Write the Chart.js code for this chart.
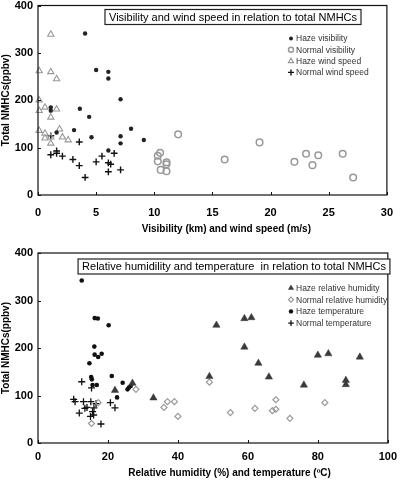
<!DOCTYPE html>
<html>
<head>
<meta charset="utf-8">
<script src="https://cdn.jsdelivr.net/npm/chart.js@4.4.1/dist/chart.umd.min.js"></script>
<style>
  body { margin: 0; background: #fff; }
  canvas { display: block; }
</style>
</head>
<body>
<canvas id="graficoVisibilidade" width="404" height="240"></canvas>
<canvas id="graficoUmidade" width="404" height="243"></canvas>
<script>
// ---- dados do grafico de cima (visibilidade / vento) ----
const hazeVisX = [4.05, 5.0, 6.05, 6.05, 7.1, 1.1, 1.1, 3.6, 4.4, 3.1, 1.6, 4.6, 7.1, 7.1, 8.0, 9.1, 6.05];
const hazeVisY = [341, 264, 260, 246, 202, 185, 178, 182, 165, 137, 132, 122, 124, 109, 140, 116, 94];

const normalVisX = [12.05, 10.5, 10.3, 10.3, 11.05, 11.05, 10.55, 11.05, 16.05, 19.05, 22.05, 23.05, 23.6, 24.1, 26.2, 27.1];
const normalVisY = [128, 89, 83, 71, 69, 65, 53, 50, 75, 111, 70, 87, 63, 84, 87, 37];

const hazeWindX = [1.1, 0.1, 1.1, 1.6, 0.1, 0.6, 0.1, 1.6, 1.1, 0.1, 0.6, 0.6, 1.1, 1.85, 2.1, 2.6, 1.1];
const hazeWindY = [339, 262, 260, 245, 200, 185, 178, 181, 164, 136, 130, 120, 122, 139, 122, 116, 109];

const normalWindX = [1.1, 1.1, 1.6, 1.6, 2.1, 3.0, 3.55, 3.55, 4.05, 5.0, 5.5, 6.05, 6.25, 6.05, 6.55, 7.1];
const normalWindY = [125, 85, 88, 93, 82, 75, 62, 112, 37, 70, 82, 68, 65, 49, 88, 53];

// ---- dados do grafico de baixo (umidade / temperatura) ----
const hazeRhX = [22, 27, 33, 49, 51, 59, 61, 59, 63, 66, 76, 80, 83, 88, 88, 92];
const hazeRhY = [111, 126, 95, 140, 248, 262, 264, 202, 168, 139, 122, 185, 188, 132, 123, 181];

const normalRhX = [15.3, 17.2, 28, 36, 37, 39, 40, 49, 55, 62, 67, 68, 68, 72, 82];
const normalRhY = [41, 85, 113, 75, 87, 87, 56, 128, 64, 73, 68, 71, 91, 52, 85];

const hazeTempX = [12.5, 16.2, 17.1, 20.2, 16.1, 16.2, 17.2, 18.2, 14.7, 15.2, 15.4, 15.6, 16.8, 21.1, 24.2, 22.6, 25.6, 26, 26.5];
const hazeTempY = [342, 263, 262, 248, 203, 186, 181, 188, 168, 139, 134, 122, 122, 141, 127, 96, 113, 117, 120];

const normalTempX = [12.5, 15.3, 10.2, 10.6, 13, 15.1, 11.8, 13.4, 14, 16.6, 16, 15.6, 15, 15.9, 20.7, 22, 18];
const normalTempY = [129, 116, 92, 87, 87, 87, 63, 73, 75, 83, 74, 66, 56, 59, 85, 74, 40];

// textos
const tituloCima = 'Visibility and wind speed in relation to total NMHCs';
const tituloBaixo = 'Relative humidility and temperature  in relation to total NMHCs';
const eixoXCima = 'Visibility (km) and wind speed (m/s)';
const eixoXBaixo = 'Relative humidity (%) and temperature (\u00baC)';
const eixoY = 'Total NMHCs(ppbv)';

const FONTE = '"Liberation Sans", Arial, sans-serif';
Chart.defaults.font.family = FONTE;
Chart.defaults.color = '#000';

// junta x e y num array de pontos
function pontos(xs, ys) {
    return xs.map((x, i) => ({ x: x, y: ys[i] }));
}

// moldura, tracinhos internos, caixa do titulo e legenda dentro da area
const molduraPlugin = {
    id: 'moldura',
    afterDraw(chart, args, opts) {
        const ctx = chart.ctx;
        const a = chart.chartArea;
        ctx.save();
        ctx.strokeStyle = '#111';
        ctx.lineWidth = 1.2;
        ctx.strokeRect(a.left, a.top, a.right - a.left, a.bottom - a.top);

        ctx.lineWidth = 1;
        const sx = chart.scales.x, sy = chart.scales.y;
        sx.ticks.forEach(t => {
            const px = Math.round(sx.getPixelForValue(t.value)) + 0.5;
            ctx.beginPath(); ctx.moveTo(px, a.bottom); ctx.lineTo(px, a.bottom - 3); ctx.stroke();
        });
        sy.ticks.forEach(t => {
            const py = Math.round(sy.getPixelForValue(t.value)) + 0.5;
            ctx.beginPath(); ctx.moveTo(a.left, py); ctx.lineTo(a.left + 3, py); ctx.stroke();
        });

        // caixa do titulo
        ctx.font = '11px ' + FONTE;
        const w = ctx.measureText(opts.titulo).width;
        const by = a.top + opts.tituloTopo;
        ctx.fillStyle = '#fff';
        ctx.fillRect(opts.tituloX - w / 2 - 4, by, w + 8, 15);
        ctx.lineWidth = 1.2;
        ctx.strokeStyle = '#222';
        ctx.strokeRect(opts.tituloX - w / 2 - 4, by, w + 8, 15);
        ctx.fillStyle = '#000';
        ctx.textAlign = 'center';
        ctx.textBaseline = 'middle';
        ctx.fillText(opts.titulo, opts.tituloX, by + 8);

        // legenda
        ctx.font = '8.5px ' + FONTE;
        ctx.textAlign = 'left';
        chart.data.datasets.forEach((ds, i) => {
            const y = a.top + opts.legendaY + i * opts.legendaPasso;
            ctx.fillStyle = ds.backgroundColor;
            ctx.strokeStyle = ds.borderColor;
            ctx.lineWidth = ds.borderWidth;
            Chart.helpers.drawPoint(ctx, {
                pointStyle: ds.pointStyle,
                radius: ds.legendaRaio,
                borderWidth: ds.borderWidth,
                rotation: 0
            }, opts.legendaX, y);
            ctx.fillStyle = '#333';
            ctx.fillText(ds.label, opts.legendaX + 5, y + 0.5);
        });
        ctx.restore();
    }
};

function eixos(xMax, xPasso, tituloX, alturaX, padTick, padTitulo) {
    return {
        x: {
            type: 'linear', min: 0, max: xMax,
            ticks: { stepSize: xPasso, padding: padTick, font: { size: 11, weight: 'bold' } },
            grid: { display: false, drawTicks: false },
            border: { display: false },
            title: { display: true, text: tituloX, font: { size: 10, weight: 'bold' }, padding: { top: 0, bottom: padTitulo } },
            afterFit: s => { s.height = alturaX; }
        },
        y: {
            min: 0, max: 400,
            ticks: { stepSize: 100, padding: 5, font: { size: 11, weight: 'bold' } },
            grid: { display: false, drawTicks: false },
            border: { display: false },
            title: { display: true, text: eixoY, font: { size: 10, weight: 'bold' }, padding: 0 },
            afterFit: s => { s.width = 38; s.paddingTop = 0; s.paddingBottom = 0; }
        }
    };
}

// grafico de cima
const graficoVisibilidade = new Chart(document.getElementById('graficoVisibilidade'), {
    type: 'scatter',
    data: {
        datasets: [
            { label: 'Haze visibility', data: pontos(hazeVisX, hazeVisY), pointStyle: 'circle', pointRadius: 2.2,
              backgroundColor: '#222', borderColor: '#222', borderWidth: 0, legendaRaio: 2 },
            { label: 'Normal visibility', data: pontos(normalVisX, normalVisY), pointStyle: 'circle', pointRadius: 3.3,
              backgroundColor: 'rgba(255,255,255,0)', borderColor: '#999', borderWidth: 1.5, legendaRaio: 2.5 },
            { label: 'Haze wind speed', data: pontos(hazeWindX, hazeWindY), pointStyle: 'triangle', pointRadius: 3.6,
              backgroundColor: 'rgba(255,255,255,0)', borderColor: '#999', borderWidth: 1.1, legendaRaio: 3 },
            { label: 'Normal wind speed', data: pontos(normalWindX, normalWindY), pointStyle: 'cross', pointRadius: 3.4,
              backgroundColor: '#111', borderColor: '#111', borderWidth: 1.4, legendaRaio: 3 }
        ]
    },
    options: {
        responsive: false,
        animation: false,
        clip: false,
        layout: { padding: { top: 5, right: 7, left: 0, bottom: 0 } },
        scales: eixos(30, 5, ' '.repeat(10) + eixoXCima, 45, 11, 5),
        plugins: {
            legend: { display: false },
            tooltip: { enabled: false },
            moldura: { titulo: tituloCima, tituloX: 233, tituloTopo: 4, legendaX: 291, legendaY: 33, legendaPasso: 11.3 }
        }
    },
    plugins: [molduraPlugin]
});

// grafico de baixo
const graficoUmidade = new Chart(document.getElementById('graficoUmidade'), {
    type: 'scatter',
    data: {
        datasets: [
            { label: 'Haze relative humidity', data: pontos(hazeRhX, hazeRhY), pointStyle: 'triangle', pointRadius: 4.2,
              backgroundColor: '#3a3a3a', borderColor: '#3a3a3a', borderWidth: 0.5, legendaRaio: 3 },
            { label: 'Normal relative humidity', data: pontos(normalRhX, normalRhY), pointStyle: 'rectRot', pointRadius: 3,
              backgroundColor: 'rgba(255,255,255,0)', borderColor: '#999', borderWidth: 1.2, legendaRaio: 2.5 },
            { label: 'Haze temperature', data: pontos(hazeTempX, hazeTempY), pointStyle: 'circle', pointRadius: 2.3,
              backgroundColor: '#111', borderColor: '#111', borderWidth: 0, legendaRaio: 2.2 },
            { label: 'Normal temperature', data: pontos(normalTempX, normalTempY), pointStyle: 'cross', pointRadius: 3.5,
              backgroundColor: '#111', borderColor: '#111', borderWidth: 1.3, legendaRaio: 2.8 }
        ]
    },
    options: {
        responsive: false,
        animation: false,
        clip: false,
        layout: { padding: { top: 13, right: 8, left: 0, bottom: 0 } },
        scales: eixos(100, 20, ' '.repeat(12) + eixoXBaixo, 40, 7, 4),
        plugins: {
            legend: { display: false },
            tooltip: { enabled: false },
            moldura: { titulo: tituloBaixo, tituloX: 234, tituloTopo: 6, legendaX: 291, legendaY: 35, legendaPasso: 11.7 }
        }
    },
    plugins: [molduraPlugin]
});
</script>
</body>
</html>
